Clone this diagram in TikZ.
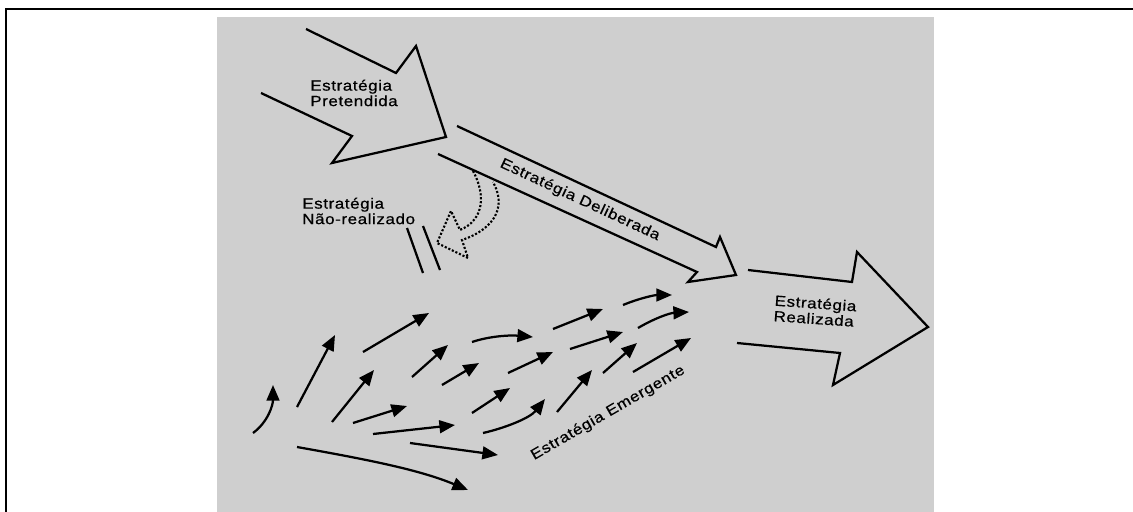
\documentclass[tikz,border=0pt]{standalone}
\usepackage{fontspec}
\setmainfont{Liberation Sans}
\newfontfamily\lblfont[FakeStretch=1.15, LetterSpace=4, FakeBold=0.6]{Liberation Sans}
\usepackage{tikz}
\usetikzlibrary{arrows.meta}
\definecolor{paper}{RGB}{207,207,207}

\begin{document}
\begin{tikzpicture}[x=0.025cm, y=-0.025cm, line join=miter,
  outline/.style={draw, line width=1.6pt},
  emerge/.style={line width=1.6pt, -{Triangle[length=3.9mm, width=3.2mm]}},
  lbl/.style={font=\lblfont\fontsize{10.5}{11}\selectfont, align=left, inner sep=0pt}]
\useasboundingbox (0,0) rectangle (1133,512);
\draw[line width=1.2pt] (6,512) -- (6,9) -- (1133,9);
\fill[paper] (217,17) rectangle (934,512);

% intended strategy
\draw[outline] (306,29) -- (396,73) -- (416,46) -- (446,137) -- (332,163) -- (352,136) -- (261,93);
\node[lbl, anchor=west] (pret) at (310,93) {Estratégia\\Pretendida};

% deliberate strategy
\draw[outline] (457,126) -- (716,247) -- (720,237) -- (736,275) -- (688,282) -- (697,272) -- (438,154);
\node[lbl, rotate=-25] (delib) at (580,200) {Estratégia Deliberada};

% unrealized strategy
\draw[line width=1.5pt, dash pattern=on 1.5pt off 1.3pt] (473,171) .. controls (486,195) and (484,220) .. (460,230)
  -- (451,211) -- (437,243) -- (468,258) -- (462,240)
  .. controls (497,228) and (506,205) .. (493,182);
\node[lbl, anchor=west] (nreal) at (302,211) {Estratégia\\Não-realizado};
\draw[outline] (407,228) -- (423,273);
\draw[outline] (423,226) -- (440,270);

% realized strategy
\draw[outline] (748,270) -- (852,282) -- (857,252) -- (928,327) -- (833,385) -- (840,353) -- (737,343);
\node[lbl, anchor=west, rotate=-4] (real) at (774,308) {Estratégia\\Realizada};

% emergent strategy
\draw[emerge] (253,433) .. controls (268,422) and (273,405) .. (273,385);
\draw[emerge] (297,407) -- (335,335);
\draw[emerge] (363,352) -- (429,313);
\draw[emerge] (332,422) -- (374,370);
\draw[emerge] (412,377) -- (448,345);
\draw[emerge] (353,423) -- (407,406);
\draw[emerge] (442,385) -- (479,363);
\draw[emerge] (373,434) -- (455,425);
\draw[emerge] (410,443) -- (498,455);
\draw[emerge] (297,447) .. controls (370,460) and (420,470) .. (468,490);
\draw[emerge] (472,342) .. controls (490,336) and (510,335) .. (533,337);
\draw[emerge] (508,373) -- (553,352);
\draw[emerge] (472,413) -- (510,388);
\draw[emerge] (483,433) .. controls (505,428) and (530,418) .. (545,399);
\draw[emerge] (553,329) -- (603,309);
\draw[emerge] (570,349) -- (623,332);
\draw[emerge] (557,412) -- (592,370);
\draw[emerge] (603,373) -- (637,343);
\draw[emerge] (623,305) .. controls (640,298) and (655,295) .. (672,295);
\draw[emerge] (638,328) .. controls (655,318) and (670,313) .. (689,312);
\draw[emerge] (633,372) -- (691,338);
\node[lbl, rotate=30] (emerg) at (608,413) {Estratégia Emergente};
\end{tikzpicture}
\end{document}
